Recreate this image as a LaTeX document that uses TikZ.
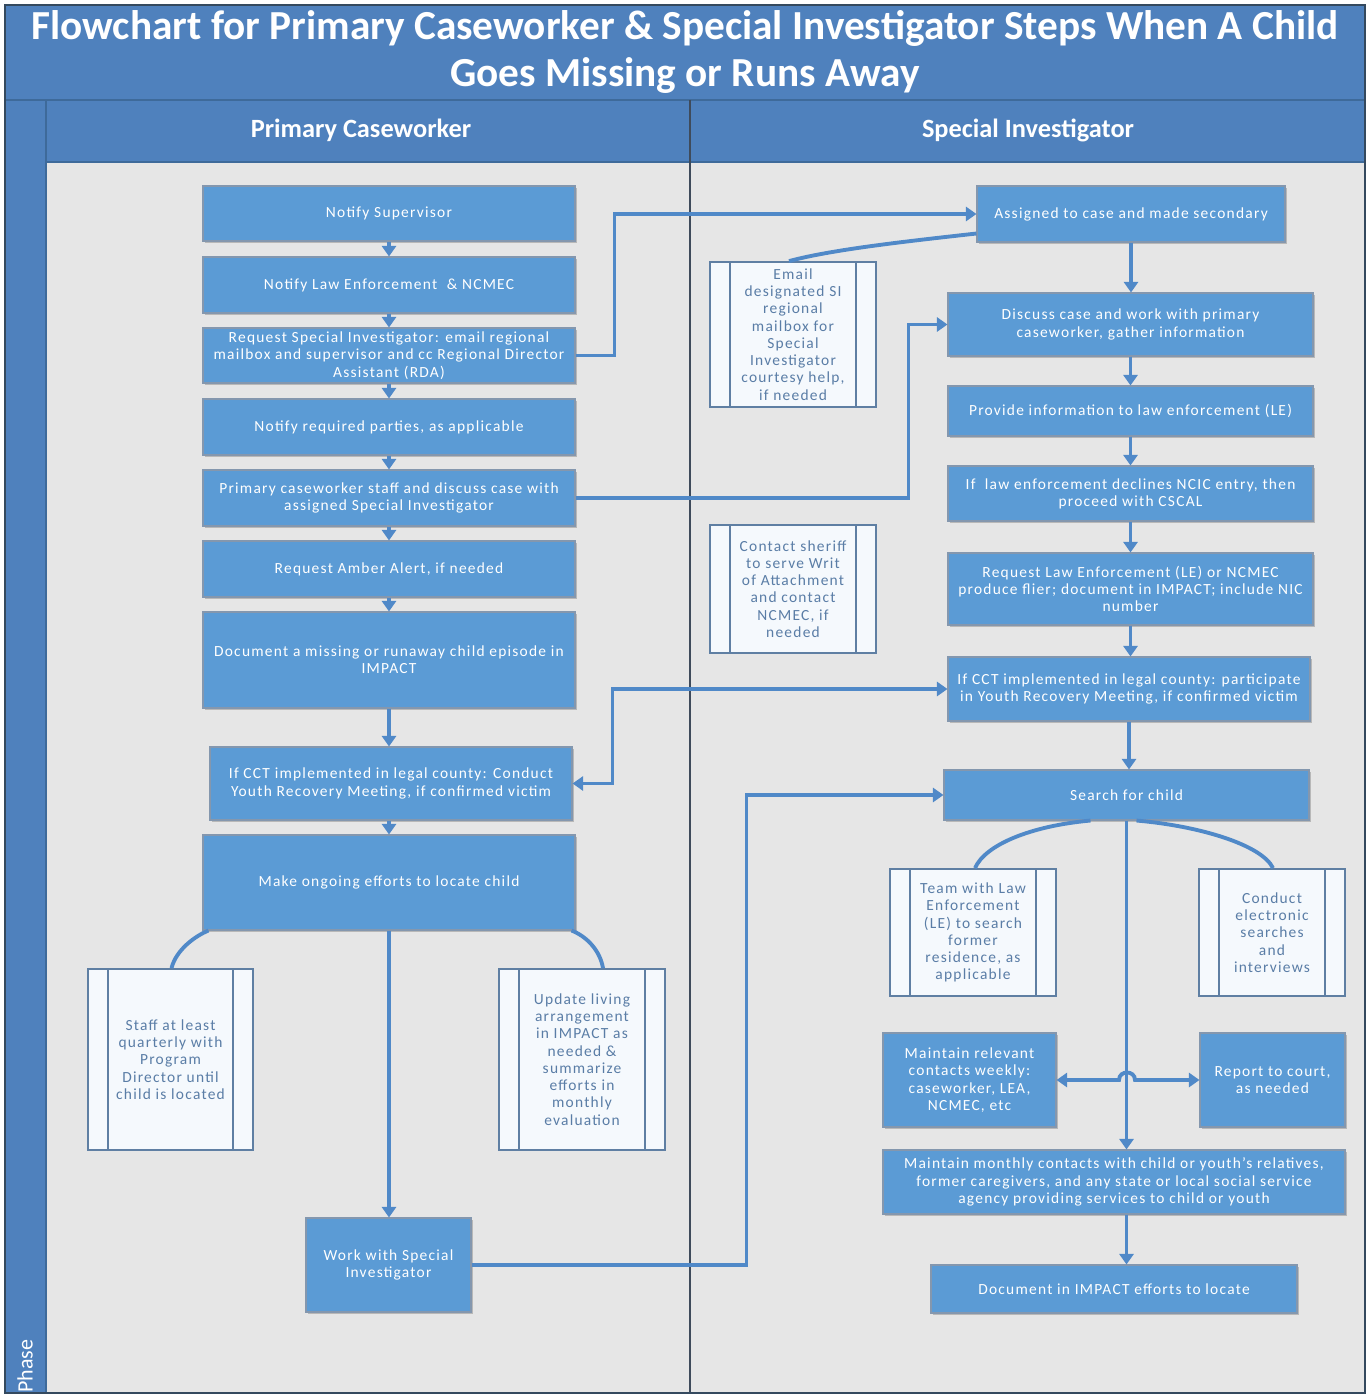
\documentclass[tikz,border=0pt]{standalone}
\usepackage{fontspec}
\setmainfont{Carlito}
\newfontfamily\boxfont[LetterSpace=8]{Carlito}
\usetikzlibrary{arrows.meta,shadows,calc}
\definecolor{titleblue}{HTML}{4F81BD}
\definecolor{edgeblue}{HTML}{3E6A9A}
\definecolor{frame}{HTML}{34495E}
\definecolor{lanegray}{HTML}{E6E6E6}
\definecolor{divider}{HTML}{3F4B5B}
\definecolor{boxblue}{HTML}{5B9BD5}
\definecolor{boxedge}{HTML}{8497AE}
\definecolor{connblue}{HTML}{5089C8}
\definecolor{subedge}{HTML}{5F7FA3}
\definecolor{subtext}{HTML}{5A7DA6}
\definecolor{subfill}{HTML}{F5F9FD}
\begin{document}
\begin{tikzpicture}[x=0.02cm,y=-0.02cm,
  wh/.style 2 args={minimum width=#1*0.02cm, minimum height=#2*0.02cm},
  box/.style={draw=boxedge, line width=0.6pt, fill=boxblue, text=white,
    font={\boxfont\fontsize{8.8}{9.8}\selectfont}, align=center, inner sep=1pt,
    drop shadow={shadow xshift=1.3pt, shadow yshift=-1.3pt, fill=black!45, opacity=0.5}},
  sub/.style={draw=subedge, line width=1pt, fill=subfill, text=subtext,
    font={\boxfont\fontsize{8.8}{9.8}\selectfont}, align=center, inner sep=1pt,
    path picture={
      \draw[subedge, line width=1pt] ([xshift=0.4cm]path picture bounding box.north west) -- ([xshift=0.4cm]path picture bounding box.south west);
      \draw[subedge, line width=1pt] ([xshift=-0.4cm]path picture bounding box.north east) -- ([xshift=-0.4cm]path picture bounding box.south east);}},
  conn/.style={draw=connblue, line width=2.2pt},
  arr/.style={-{Triangle[width=8pt,length=6pt]}},
  dbl/.style={{Triangle[width=8pt,length=6pt]}-{Triangle[width=8pt,length=6pt]}},
  hdr/.style={text=white, font={\fontsize{15}{18}\selectfont\bfseries}},
]
\useasboundingbox (0,0) rectangle (1367,1395);
\fill[white] (0,0) rectangle (1367,1395);
% frame and lanes
\fill[titleblue] (5,5) rectangle (1365,162);
\fill[titleblue] (5,100) rectangle (46,1393);
\fill[lanegray] (46,162) rectangle (1365,1393);
\draw[edgeblue, line width=1pt] (5,100) -- (1365,100);
\draw[edgeblue, line width=1pt] (46,162) -- (1365,162);
\draw[edgeblue, line width=1pt] (46,100) -- (46,1393);
\draw[divider, line width=1.3pt] (690,100) -- (690,1393);
\draw[frame, line width=1.2pt] (5,5) rectangle (1365,1393);
% titles
\node[text=white, font={\fontsize{23.5}{26.7}\selectfont\bfseries}, align=center] (title) at (685,52)
  {Flowchart for Primary Caseworker \& Special Investigator Steps When A Child\\Goes Missing or Runs Away};
\node[hdr] (lane1) at (361,130) {Primary Caseworker};
\node[hdr] (lane2) at (1028,130) {Special Investigator};
\node[text=white, rotate=90, font={\fontsize{12.5}{15}\selectfont}] (phase) at (25,1366) {Phase};
% left lane
\node[box, wh={372}{55}] (n1) at (389,213.5) {Notify Supervisor};
\node[box, wh={372}{56}] (n2) at (389,285) {Notify Law Enforcement \ \& NCMEC};
\node[box, wh={372}{55}] (n3) at (389,355.5) {Request Special Investigator: email regional\\mailbox and supervisor and cc Regional Director\\Assistant (RDA)};
\node[box, wh={372}{56}] (n4) at (389,427) {Notify required parties, as applicable};
\node[box, wh={372}{56}] (n5) at (389,498) {Primary caseworker staff and discuss case with\\assigned Special Investigator};
\node[box, wh={372}{56}] (n6) at (389,569) {Request Amber Alert, if needed};
\node[box, wh={372}{96}] (n7) at (389,660) {Document a missing or runaway child episode in\\IMPACT};
\node[box, wh={362}{73}] (n8) at (391,783.5) {If CCT implemented in legal county: Conduct\\Youth Recovery Meeting, if confirmed victim};
\node[box, wh={372}{95}] (n9) at (389,882.5) {Make ongoing efforts to locate child};
\node[sub, wh={165}{181}] (n10) at (170.5,1059.5) {Staff at least\\quarterly with\\Program\\Director until\\child is located};
\node[sub, wh={166}{181}] (n11) at (582,1059.5) {Update living\\arrangement\\in IMPACT as\\needed \&\\summarize\\efforts in\\monthly\\evaluation};
\node[box, wh={165}{94}] (n12) at (388.5,1265) {Work with Special\\Investigator};
% right lane
\node[box, wh={308}{56}] (r1) at (1131,214) {Assigned to case and made secondary};
\node[sub, wh={166}{145}] (r2) at (793,334.5) {Email\\designated SI\\regional\\mailbox for\\Special\\Investigator\\courtesy help,\\if needed};
\node[box, wh={365}{63}] (r3) at (1130.5,324.5) {Discuss case and work with primary\\caseworker, gather information};
\node[box, wh={365}{50}] (r4) at (1130.5,411) {Provide information to law enforcement (LE)};
\node[box, wh={365}{55}] (r5) at (1130.5,493.5) {If \ law enforcement declines NCIC entry, then\\proceed with CSCAL};
\node[box, wh={365}{72}] (r6) at (1130.5,589) {Request Law Enforcement (LE) or NCMEC\\produce flier; document in IMPACT; include NIC\\number};
\node[sub, wh={166}{128}] (r7) at (793,589) {Contact sheriff\\to serve Writ\\of Attachment\\and contact\\NCMEC, if\\needed};
\node[box, wh={362}{64}] (r8) at (1129,689) {If CCT implemented in legal county: participate\\in Youth Recovery Meeting, if confirmed victim};
\node[box, wh={365}{50}] (r9) at (1126.5,795) {Search for child};
\node[sub, wh={166}{127}] (r10) at (973,932.5) {Team with Law\\Enforcement\\(LE) to search\\former\\residence, as\\applicable};
\node[sub, wh={146}{127}] (r11) at (1272,932.5) {Conduct\\electronic\\searches\\and\\interviews};
\node[box, wh={173}{94}] (r12) at (969.5,1080) {Maintain relevant\\contacts weekly:\\caseworker, LEA,\\NCMEC, etc};
\node[box, wh={145}{94}] (r13) at (1272.5,1080) {Report to court,\\as needed};
\node[box, wh={462}{64}] (r14) at (1114,1182) {Maintain monthly contacts with child or youth’s relatives,\\former caregivers, and any state or local social service\\agency providing services to child or youth};
\node[box, wh={366}{48}] (r15) at (1114,1289) {Document in IMPACT efforts to locate};
% left chain
\foreach \a/\b in {n1/n2,n2/n3,n3/n4,n4/n5,n5/n6,n6/n7,n7/n8,n9/n12}
  \draw[conn, arr] (\a.south) -- (\a.south |- \b.north);
\draw[conn, arr] (n8.south -| n9.north) -- (n9.north);
% cross-lane links
\draw[conn, arr] (n3.east) -- ++(39,0) |- (r1.west);
\draw[conn, arr] (n5.east) -- ++(333,0) |- (r3.west);
\draw[conn, dbl] (n8.east) -- ++(40,0) |- (r8.west);
\draw[conn, arr] (n12.east) -- ++(275,0) |- (r9.west);
% right chain
\draw[conn, arr] (r1.south) -- (r1.south |- r3.north);
\foreach \a/\b in {r3/r4,r4/r5,r5/r6,r6/r8,r8/r9}
  \draw[conn, arr] (\a.south) -- (\a.south |- \b.north);
\draw[conn, arr] (r9.south) -- (r9.south |- r14.north);
\draw[conn, arr] (r14.south -| r9.south) -- (r15.north -| r9.south);
% side links
\draw[conn] ($(r1.south west)+(0,-9)$) .. controls (900,242) and (830,250) .. ($(r2.north)+(-4,0)$);
\draw[conn] ($(n9.south west)+(6,0)$) .. controls (195,936) and (176,950) .. ($(n10.north)+(1,0)$);
\draw[conn] ($(n9.south east)+(-4,0)$) .. controls (586,936) and (600,950) .. ($(n11.north)+(21,0)$);
\draw[conn] ($(r9.south)+(-36,0)$) .. controls (1030,826) and (985,845) .. ($(r10.north)+(2,0)$);
\draw[conn] ($(r9.south)+(10,0)$) .. controls (1200,826) and (1262,845) .. ($(r11.north)+(1,0)$);
\draw[conn, dbl] (r12.east) -- (1119,1080) .. controls (1119,1070) and (1135,1070) .. (1135,1080) -- (r13.west);
\end{tikzpicture}
\end{document}
